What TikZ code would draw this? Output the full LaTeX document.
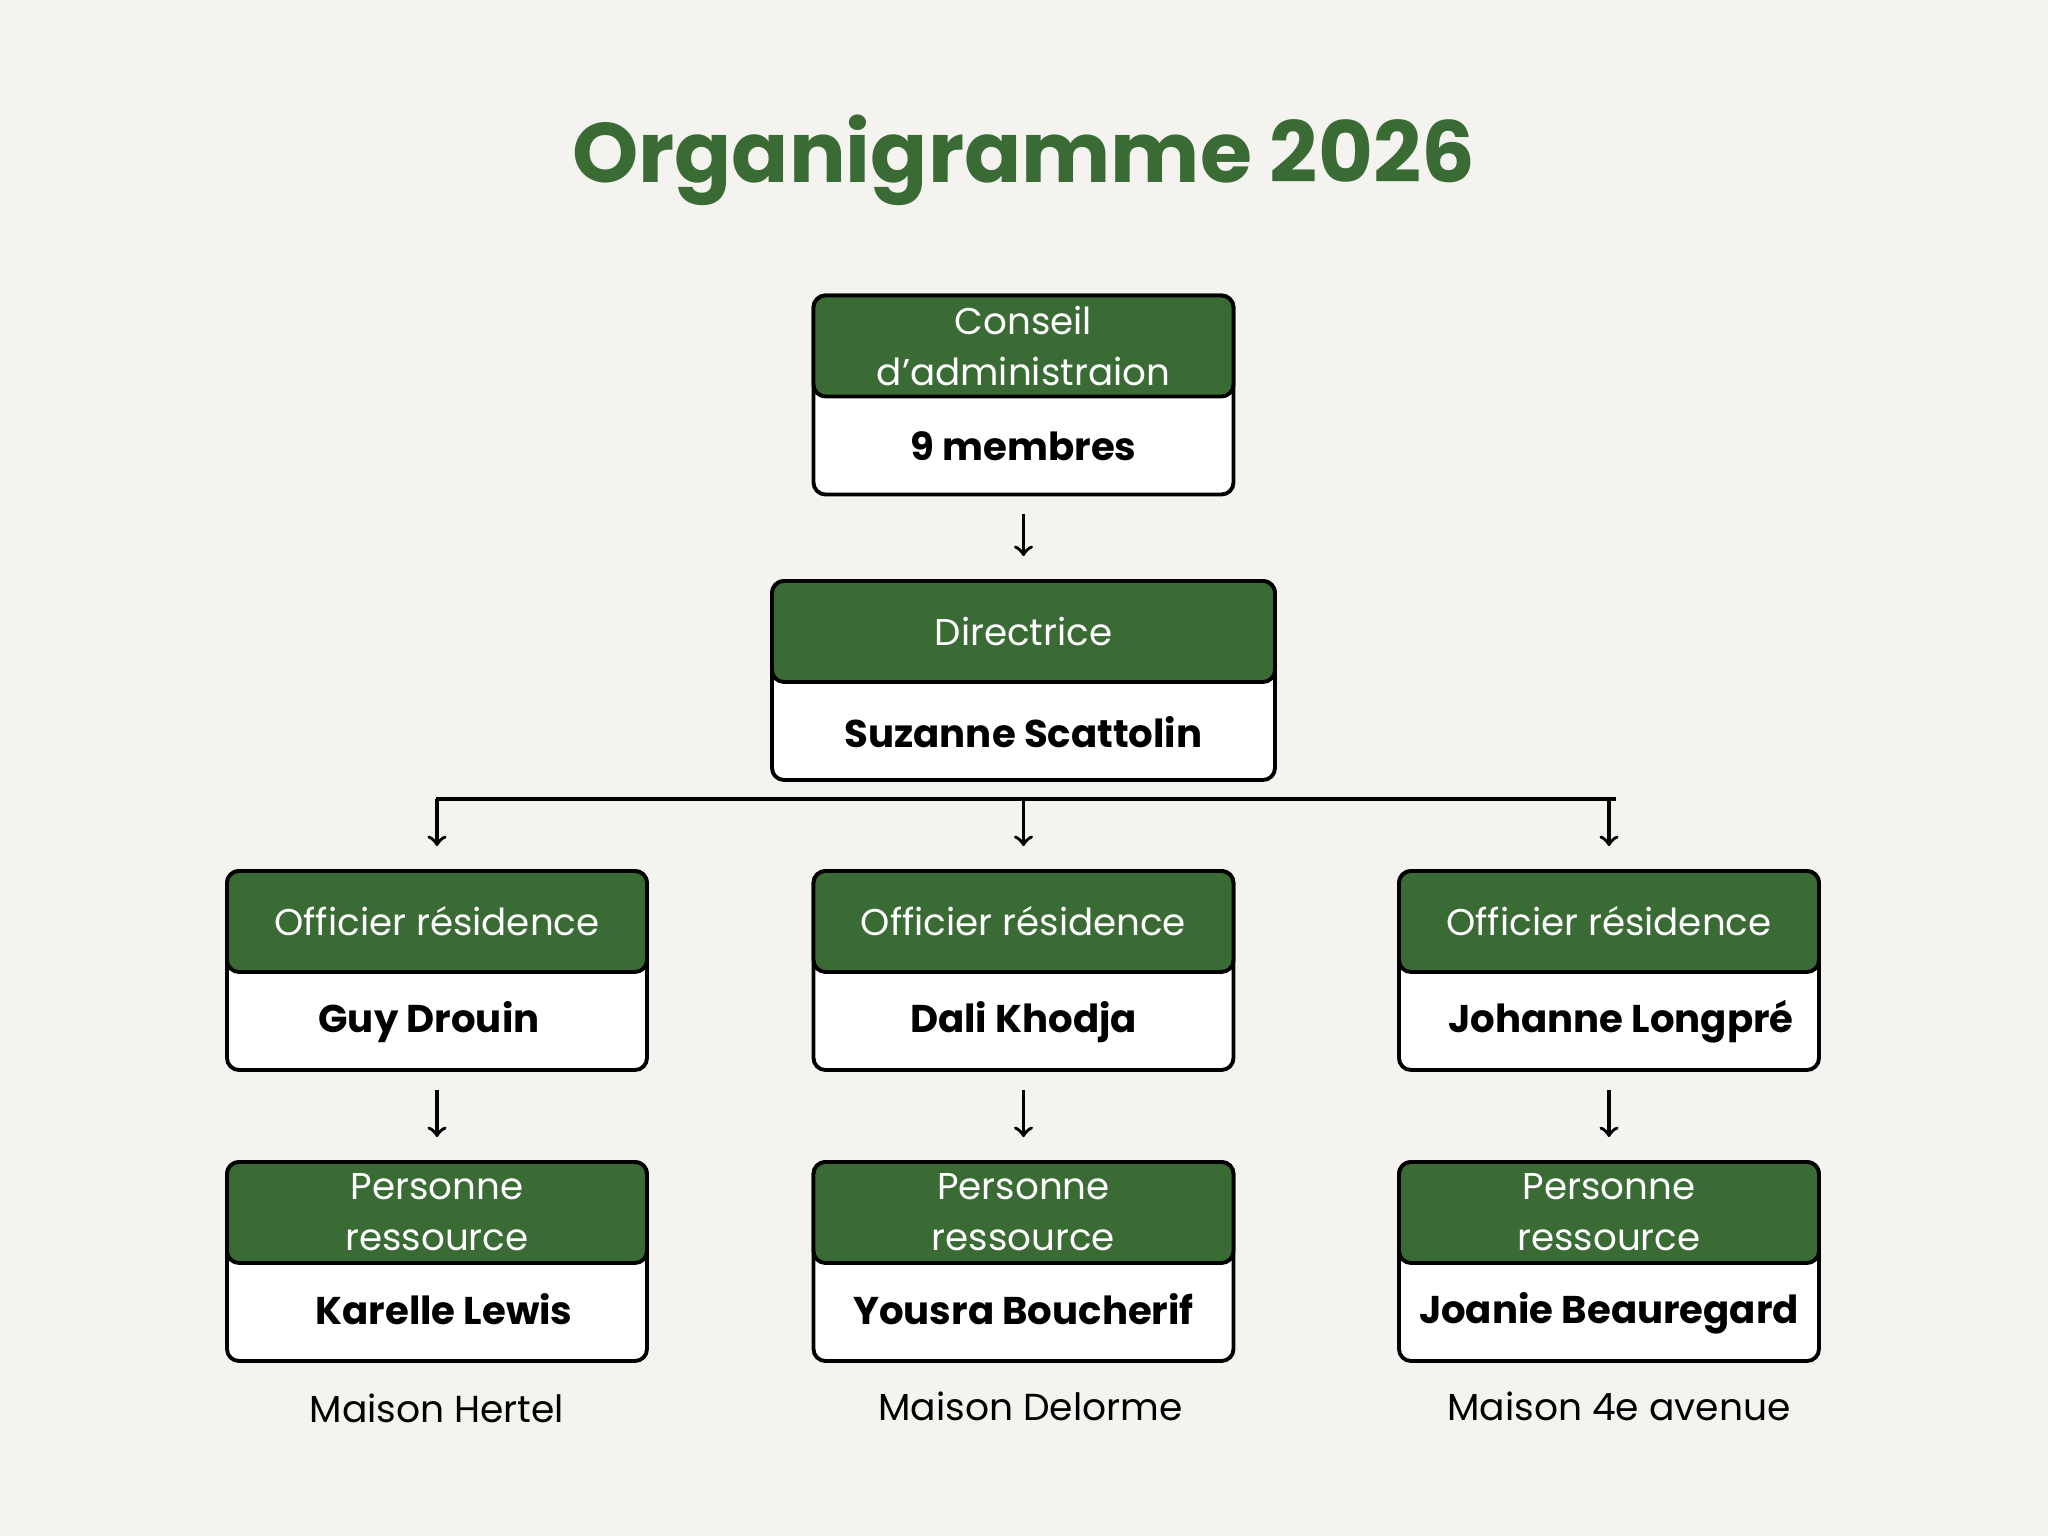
\documentclass[tikz,border=0pt]{standalone}
\usepackage{fontspec}
\setmainfont{Poppins}
\usepackage{tikz}
\usetikzlibrary{positioning,arrows}
\usepackage{xcolor}
\definecolor{vert}{HTML}{3B6B35}
\definecolor{fond}{HTML}{F4F3EF}

\begin{document}
\begin{tikzpicture}[>=to,semithick,
	cadre/.style={draw,line width=1.1pt,rounded corners=0.12cm,fill=white,minimum height=1.99cm,minimum width=4.2cm,inner sep=0pt},
	entete/.style={draw,line width=1.1pt,rounded corners=0.12cm,fill=vert,text=white,minimum height=1.01cm,minimum width=4.2cm,align=center,inner sep=0pt,font=\fontsize{10.6}{14.5}\selectfont},
	nom/.style={minimum height=0.98cm,inner sep=0pt,font=\fontsize{11}{13}\selectfont\bfseries},
	maison/.style={font=\fontsize{10.7}{13}\selectfont},
	fleche/.style={->,line width=1pt,shorten <=0.18cm,shorten >=0.23cm}]
		\fill[fond] (0,0) rectangle (20.48,-15.36);
		\useasboundingbox (0,0) rectangle (20.48,-15.36);
		
		\node[text=vert,font=\fontsize{24}{28}\selectfont\bfseries] (titre) at (10.235,-1.6) {Organigramme 2026};
		
		% conseil et direction
		\node[cadre] (ca) at (10.235,-3.95) {};
		\node[entete] (caT) [below=0pt of ca.north] {Conseil\\d’administraion};
		\node[nom] (caN) [above=0pt of ca.south] {9 membres};
		\node[cadre,minimum width=5.03cm] (dg) at (10.235,-6.805) {};
		\node[entete,minimum width=5.03cm] (dgT) [below=0pt of dg.north] {Directrice};
		\node[nom] (dgN) [above=0pt of dg.south] {Suzanne Scattolin};
		
		% officiers
		\node[cadre] (o1) at (4.37,-9.705) {};
		\node[entete] (o1T) [below=0pt of o1.north] {Officier résidence};
		\node[nom,xshift=-0.08cm] (o1N) [above=0pt of o1.south] {Guy Drouin};
		\node[cadre] (o2) at (10.235,-9.705) {};
		\node[entete] (o2T) [below=0pt of o2.north] {Officier résidence};
		\node[nom] (o2N) [above=0pt of o2.south] {Dali Khodja};
		\node[cadre] (o3) at (16.09,-9.705) {};
		\node[entete] (o3T) [below=0pt of o3.north] {Officier résidence};
		\node[nom,xshift=0.12cm] (o3N) [above=0pt of o3.south] {Johanne Longpré};
		
		% personnes ressources
		\node[cadre] (p1) at (4.37,-12.615) {};
		\node[entete] (p1T) [below=0pt of p1.north] {Personne\\ressource};
		\node[nom,xshift=0.07cm] (p1N) [above=0.04cm of p1.south] {Karelle Lewis};
		\node[cadre] (p2) at (10.235,-12.615) {};
		\node[entete] (p2T) [below=0pt of p2.north] {Personne\\ressource};
		\node[nom] (p2N) [above=0.04cm of p2.south] {Yousra Boucherif};
		\node[cadre] (p3) at (16.09,-12.615) {};
		\node[entete] (p3T) [below=0pt of p3.north] {Personne\\ressource};
		\node[nom] (p3N) [above=0pt of p3.south] {Joanie Beauregard};
		
		\node[maison] (m1) [below=0.18cm of p1] {Maison Hertel};
		\node[maison,xshift=0.07cm] (m2) [below=0.16cm of p2] {Maison Delorme};
		\node[maison,xshift=0.1cm] (m3) [below=0.16cm of p3] {Maison 4e avenue};
		
		\coordinate (busG) at (4.36,-7.99);
		\coordinate (busD) at (16.16,-7.99);
		
		\draw[fleche] (ca) -- (dg);
		\draw[line width=1pt] (busG) -- (busD);
		\draw[fleche,shorten <=0pt] (busG -| o1) -- (o1);
		\draw[fleche,shorten <=0pt] (busG -| o2) -- (o2);
		\draw[fleche,shorten <=0pt] (busG -| o3) -- (o3);
		\draw[fleche] (o1) -- (p1);
		\draw[fleche] (o2) -- (p2);
		\draw[fleche] (o3) -- (p3);
\end{tikzpicture}
\end{document}
